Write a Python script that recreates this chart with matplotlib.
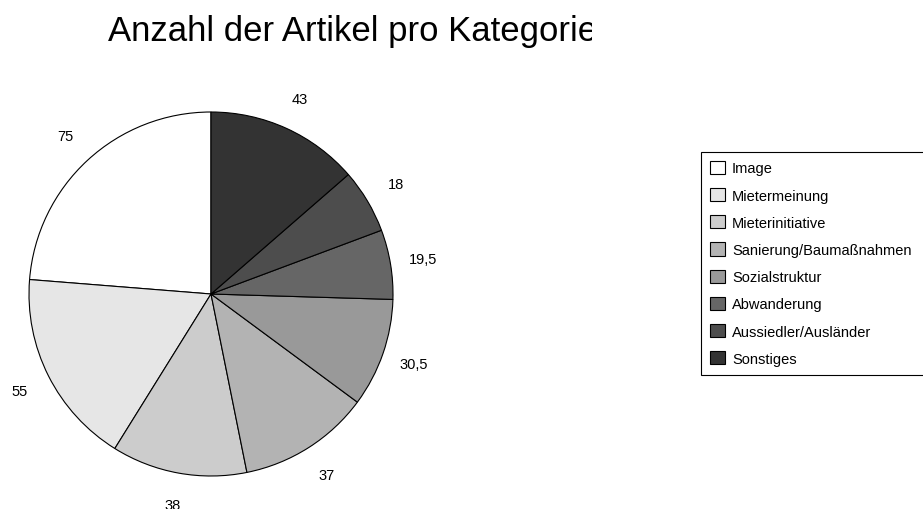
import matplotlib
matplotlib.use("Agg")
import matplotlib.pyplot as plt
from matplotlib.patches import Patch, Rectangle

plt.rcParams['font.family'] = ['Liberation Sans', 'DejaVu Sans']

# data (counterclockwise from top)
kategorien = ['Image', 'Mietermeinung', 'Mieterinitiative', 'Sanierung/Baumaßnahmen',
              'Sozialstruktur', 'Abwanderung', 'Aussiedler/Ausländer', 'Sonstiges']
anzahl = [75, 55, 38, 37, 30.5, 19.5, 18, 43]
farben = ['#ffffff', '#e6e6e6', '#cccccc', '#b3b3b3', '#999999', '#666666', '#4d4d4d', '#333333']
label_texte = [f'{v:g}'.replace('.', ',') for v in anzahl]

W, H = 923, 510
fig = plt.figure(figsize=(W / 100, H / 100), dpi=100)

# pie: center (211, 295) px, radius 182 px
cx, cy, r = 211, 295, 182
ax = fig.add_axes([(cx - r) / W, (H - cy - r) / H, 2 * r / W, 2 * r / H])
wedges, texts = ax.pie(anzahl, colors=farben, startangle=90, counterclock=True,
                       labels=label_texte, labeldistance=1.18,
                       wedgeprops=dict(edgecolor='black', linewidth=0.8, clip_on=False),
                       textprops=dict(fontsize=10.5))
for t in texts:
    t.set_ha('center')
    t.set_va('center')
ax.set_xlim(-1, 1)
ax.set_ylim(-1, 1)
ax.set_aspect('equal')
ax.axis('off')

# title, cut off at the right like in the original
fig.text(108 / W, 1 - 41 / H, 'Anzahl der Artikel pro Kategorie',
         fontsize=25, ha='left', va='baseline', zorder=1)
fig.patches.append(Rectangle((592 / W, 1 - 70 / H), 80 / W, 65 / H, transform=fig.transFigure,
                             facecolor='white', edgecolor='none', zorder=5))

# legend
handles = [Patch(facecolor=c, edgecolor='black', linewidth=0.8) for c in farben]
leg = fig.legend(handles, kategorien, loc='upper left',
                 bbox_to_anchor=(701 / W, 1 - 377 / H, (940 - 701) / W, (377 - 153) / H),
                 mode='expand', borderaxespad=0, fancybox=False, edgecolor='black',
                 fontsize=10.5, handlelength=1.03, handleheight=1.03, handletextpad=0.5,
                 labelspacing=0.86, borderpad=0.6, framealpha=1)
leg.get_frame().set_linewidth(0.8)

fig.savefig('out.png', dpi=100)
